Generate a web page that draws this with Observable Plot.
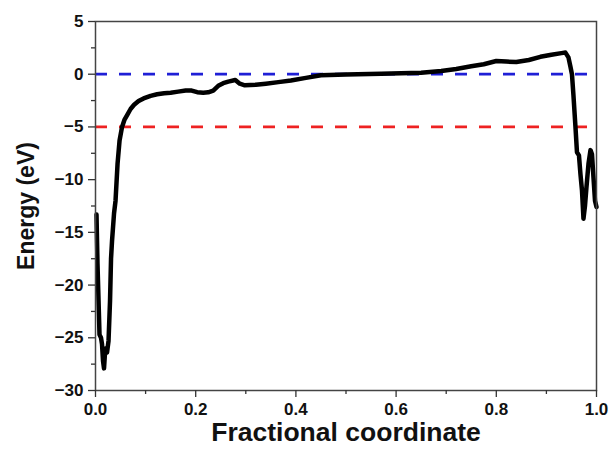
<!DOCTYPE html>
<html>
<head>
<meta charset="utf-8">
<script src="https://cdn.jsdelivr.net/npm/d3@7"></script>
<script src="https://cdn.jsdelivr.net/npm/@observablehq/plot@0.6"></script>
<style>
  html, body { margin: 0; padding: 0; background: #fff; }
  svg { font-family: "Liberation Sans", Arial, sans-serif; }
</style>
</head>
<body>
<div id="chart"></div>
<script>
const coords = [0.002, 0.004, 0.008, 0.011, 0.013, 0.015, 0.017, 0.019, 0.021, 0.023, 0.026, 0.029, 0.031, 0.033, 0.037, 0.040, 0.044, 0.048, 0.053, 0.058, 0.064, 0.070, 0.077, 0.086, 0.096, 0.110, 0.123, 0.137, 0.150, 0.165, 0.180, 0.192, 0.203, 0.215, 0.225, 0.235, 0.245, 0.255, 0.265, 0.279, 0.288, 0.298, 0.320, 0.340, 0.365, 0.390, 0.420, 0.450, 0.500, 0.570, 0.650, 0.690, 0.720, 0.750, 0.775, 0.800, 0.820, 0.840, 0.865, 0.888, 0.910, 0.930, 0.938, 0.944, 0.948, 0.951, 0.954, 0.958, 0.961, 0.965, 0.968, 0.971, 0.974, 0.977, 0.980, 0.984, 0.988, 0.991, 0.994, 0.997, 1.000];
const energies = [-13.3, -18.0, -24.7, -25.0, -25.6, -27.2, -27.9, -26.4, -26.0, -26.4, -25.3, -21.5, -17.5, -15.8, -13.2, -12.0, -8.5, -6.3, -5.0, -4.3, -3.8, -3.3, -2.9, -2.55, -2.3, -2.05, -1.9, -1.8, -1.75, -1.65, -1.55, -1.55, -1.7, -1.75, -1.72, -1.55, -1.1, -0.85, -0.7, -0.55, -0.9, -1.05, -1.0, -0.9, -0.75, -0.6, -0.35, -0.1, -0.02, 0.05, 0.15, 0.3, 0.5, 0.75, 0.95, 1.25, 1.2, 1.15, 1.35, 1.65, 1.85, 2.0, 2.05, 1.6, 0.7, 0.0, -2.0, -5.0, -7.4, -7.7, -9.5, -11.0, -13.7, -12.5, -10.7, -8.5, -7.2, -7.6, -9.8, -12.0, -12.6];
const refLevels = [0, -5];
const refColors = ["#1f1fd6", "#ee2222"];
const xTicks = [0, 0.2, 0.4, 0.6, 0.8, 1.0];
const xMinorTicks = [0.1, 0.3, 0.5, 0.7, 0.9];
const yTicks = [5, 0, -5, -10, -15, -20, -25, -30];
const yMinorTicks = [2.5, -2.5, -7.5, -12.5, -17.5, -22.5, -27.5];
const xLabel = "Fractional coordinate";
const yLabel = "Energy (eV)";

const data = coords.map((c, i) => ({x: c, y: energies[i]}));
const refs = refLevels.map((v, i) => ({y: v, color: refColors[i]}));

const chart = Plot.plot({
  width: 611,
  height: 455,
  marginLeft: 95,
  marginRight: 15,
  marginTop: 21,
  marginBottom: 65,
  style: {fontFamily: "'Liberation Sans', Arial, sans-serif", background: "#fff", fontWeight: "bold", color: "#111"},
  x: {domain: [0, 1]},
  y: {domain: [-30, 5]},
  marks: [
    Plot.ruleY(refs, {y: "y", stroke: "color", strokeWidth: 2.8, strokeDasharray: "12,12"}),
    Plot.line(data, {x: "x", y: "y", stroke: "#000", strokeWidth: 4.5, strokeLinejoin: "round", strokeLinecap: "round"}),
    Plot.frame({stroke: "#444", strokeWidth: 1.5}),
    Plot.axisX({ticks: xTicks, tickSize: 7, tickPadding: 5, tickFormat: d3.format(".1f"), fill: "#111", stroke: "#333", strokeWidth: 1.3, label: null, strokeOpacity: 1, ariaLabel: "xticklabels"}),
    Plot.axisX({ticks: xMinorTicks, tickSize: 4, tickFormat: () => "", label: null, stroke: "#333", strokeWidth: 1.3, strokeOpacity: 1}),
    Plot.axisY({ticks: yTicks, tickSize: 7, tickPadding: 5, tickFormat: d3.format("d"), fill: "#111", stroke: "#333", strokeWidth: 1.3, label: null, strokeOpacity: 1}),
    Plot.axisY({ticks: yMinorTicks, tickSize: 4, tickFormat: () => "", label: null, stroke: "#333", strokeWidth: 1.3, strokeOpacity: 1}),
    Plot.text([xLabel], {frameAnchor: "bottom", dy: 42, lineAnchor: "middle", textAnchor: "middle", fontSize: 26.5, fontWeight: "bold", fill: "#111"}),
    Plot.text([yLabel], {frameAnchor: "left", dx: -69, rotate: -90, lineAnchor: "middle", textAnchor: "middle", fontSize: 23, fontWeight: "bold", fill: "#111"})
  ]
});
// enlarge tick labels (every text except the two axis titles)
d3.select(chart).selectAll("text")
  .filter(function() { const t = this.textContent; return t !== xLabel && t !== yLabel; })
  .style("font-size", "17px").style("font-weight", "bold");
document.getElementById("chart").appendChild(chart);
</script>
</body>
</html>
